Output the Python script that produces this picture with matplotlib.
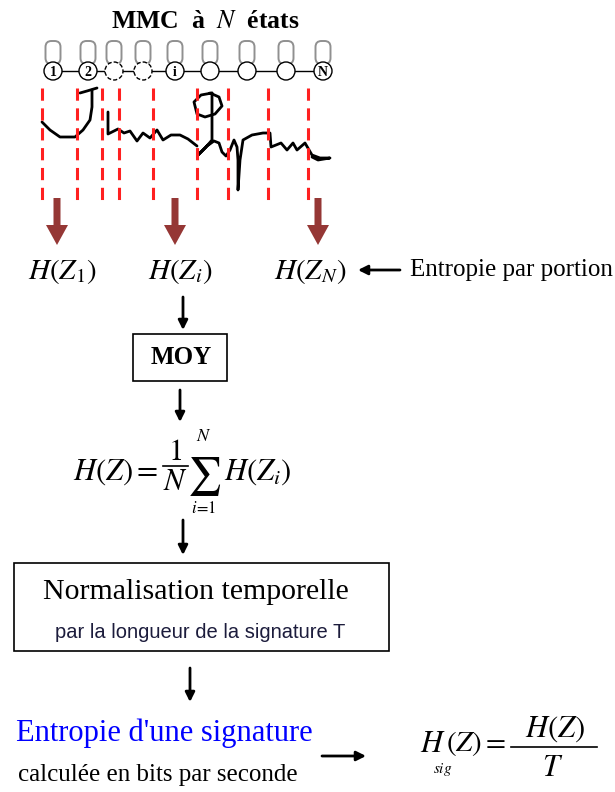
import matplotlib
matplotlib.use("Agg")
import matplotlib.pyplot as plt
from matplotlib.patches import Circle, FancyBboxPatch, FancyArrow, Rectangle

plt.rcParams["mathtext.fontset"] = "stix"
SERIF = "Liberation Serif"
SANS = "Liberation Sans"

# HMM states (pixel positions along the chain)
state_x = [53, 88, 114, 143, 175, 210, 247, 286, 323]
state_labels = ["1", "2", "", "", "i", "", "", "", "N"]
state_y = 71

# segmentation cuts on the signature
cut_x = [42, 77, 102, 119, 153, 197, 228, 268, 308]

# entropy per portion
portion_x = [57, 175, 318]
label_x = [62, 180, 310]
portion_labels = [r"$H(Z_1)$", r"$H(Z_i)$", r"$H(Z_N)$"]

# signature strokes
sig_strokes = [
    [(42, 122), (50, 130), (60, 137), (75, 137), (83, 130), (90, 120), (92, 107), (92, 90)],
    [(80, 93), (87, 91), (97, 88)],
    [(108, 112), (108, 134), (118, 129), (124, 133), (130, 131), (137, 141), (143, 133),
     (150, 138), (157, 130), (163, 140), (171, 135), (180, 135), (188, 139), (197, 146)],
    [(212, 93), (201, 95), (194, 102), (197, 114), (205, 117), (215, 114), (222, 106),
     (219, 97), (210, 93)],
    [(212, 93), (212, 140), (206, 147), (198, 155), (207, 146), (214, 141), (219, 143),
     (222, 152), (226, 156), (230, 150), (234, 140), (237, 147), (238, 160), (238, 190),
     (240, 160), (243, 140), (252, 135), (263, 133), (270, 133), (271, 147), (281, 143),
     (287, 150), (293, 143), (297, 150), (305, 143), (312, 155), (320, 158), (330, 158),
     (318, 160), (312, 157)],
]

fig = plt.figure(figsize=(6.15, 7.92), dpi=100)
ax = fig.add_axes([0, 0, 1, 1])
ax.set_xlim(0, 615)
ax.set_ylim(792, 0)
ax.axis("off")

# title
ax.text(205, 22, r"MMC  à  $N$  états", family=SERIF, weight="bold", fontsize=18.5,
        ha="center", va="center")

# chain line, self loops and states
ax.plot([state_x[0], state_x[-1]], [state_y, state_y], color="k", lw=1, zorder=1)
for x, lab in zip(state_x, state_labels):
    ax.add_patch(FancyBboxPatch((x - 7.5, 41), 15, 23, boxstyle="round,pad=0,rounding_size=6",
                                fc="white", ec="#909090", lw=1.4, zorder=2))
    ls = (0, (3, 1.5)) if lab == "" and x < 150 else "-"
    ax.add_patch(Circle((x, state_y), 9, fc="white", ec="k", lw=1, ls=ls, zorder=3))
    if lab:
        ax.text(x, state_y + 1, lab, family=SERIF, weight="bold", fontsize=10,
                ha="center", va="center", zorder=4)

# signature
for stroke in sig_strokes:
    xs, ys = zip(*stroke)
    ax.plot(xs, ys, color="k", lw=2, solid_capstyle="round", solid_joinstyle="round")

# segment cuts
for x in cut_x:
    ax.plot([x, x], [88, 200], color="#ff2020", lw=2.2, ls=(0, (4, 2.5)))

# brown arrows and per-portion entropy
for x, lx, lab in zip(portion_x, label_x, portion_labels):
    ax.add_patch(FancyArrow(x, 198, 0, 47, width=7, head_width=22, head_length=20,
                            length_includes_head=True, color="#953735", lw=0))
    ax.text(lx, 271, lab, fontsize=21, ha="center", va="center")


def arrow(x0, y0, x1, y1):
    ax.annotate("", xy=(x1, y1), xytext=(x0, y0),
                arrowprops=dict(arrowstyle="-|>", color="k", lw=2, mutation_scale=14,
                                shrinkA=0, shrinkB=0))


arrow(400, 270, 358, 270)
ax.text(410, 270, "Entropie par portion", family=SERIF, fontsize=18, ha="left", va="center")

arrow(183, 297, 183, 330)
ax.add_patch(Rectangle((133, 334), 94, 47, fc="none", ec="k", lw=1.2))
ax.text(181, 358, "MOY", family=SERIF, weight="bold", fontsize=18, ha="center", va="center")

arrow(180, 390, 180, 422)

# mean formula H(Z) = 1/N sum H(Z_i)
ax.text(158, 472, r"$H(Z)=$", fontsize=22, ha="right", va="center")
ax.text(175, 452, r"$1$", fontsize=22, ha="center", va="center")
ax.plot([163, 188], [466, 466], color="k", lw=1.2)
ax.text(175, 481, r"$N$", fontsize=22, ha="center", va="center")
ax.text(204, 477, r"$\sum$", fontsize=27, ha="center", va="center")
ax.text(204, 436, r"$N$", fontsize=13, ha="center", va="center")
ax.text(204, 508, r"$i\!=\!1$", fontsize=12, ha="center", va="center")
ax.text(224, 472, r"$H(Z_i)$", fontsize=22, ha="left", va="center")

arrow(183, 520, 183, 555)
ax.add_patch(Rectangle((14, 563), 375, 88, fc="none", ec="k", lw=1.2))
ax.text(196, 592, "Normalisation temporelle", family=SERIF, fontsize=21.5,
        ha="center", va="center")
ax.text(200, 633, "par la longueur de la signature T", family=SANS, fontsize=14.5,
        color="#1c1c3c", ha="center", va="center")

arrow(190, 668, 190, 702)
ax.text(164, 733, "Entropie d'une signature", family=SERIF, fontsize=22, color="#0000ff",
        ha="center", va="center")
ax.text(158, 775, "calculée en bits par seconde", family=SERIF, fontsize=18,
        ha="center", va="center")
arrow(322, 756, 366, 756)

# H_sig(Z) = H(Z) / T
ax.text(420, 743, r"$H$", fontsize=22, ha="left", va="center")
ax.text(433, 769, r"$sig$", fontsize=11, ha="left", va="center")
ax.text(446, 743, r"$(Z)=$", fontsize=21, ha="left", va="center")
ax.plot([511, 597], [747, 747], color="k", lw=1.2)
ax.text(555, 729, r"$H(Z)$", fontsize=22, ha="center", va="center")
ax.text(553, 767, r"$T$", fontsize=22, ha="center", va="center")

fig.savefig("out.png", dpi=100)
